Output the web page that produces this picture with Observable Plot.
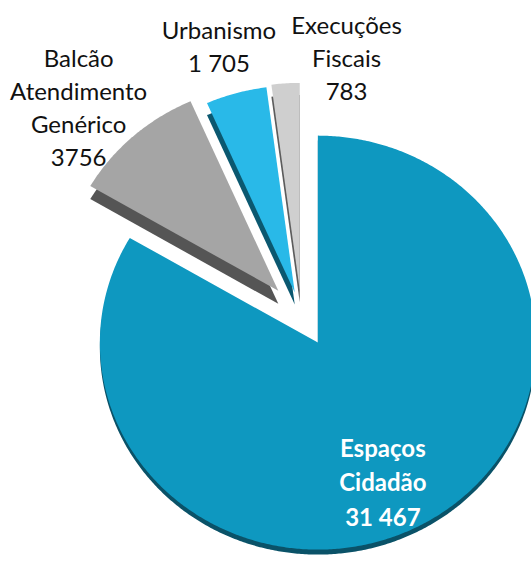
<!DOCTYPE html>
<html><head><meta charset="utf-8">
<script src="https://cdn.jsdelivr.net/npm/d3@7"></script>
<script src="https://cdn.jsdelivr.net/npm/@observablehq/plot@0.6"></script>
<style>body{margin:0;background:#fff;overflow:hidden}</style>
</head><body><div id="chart"></div>
<script>
// ---- data ----
const categories = ["Espaços Cidadão", "Balcão Atendimento Genérico", "Urbanismo", "Execuções Fiscais"];
const labelLines = [["Espaços", "Cidadão"], ["Balcão", "Atendimento", "Genérico"], ["Urbanismo"], ["Execuções", "Fiscais"]];
const values = [31467, 3756, 1705, 783];
const valueLabels = ["31 467", "3756", "1 705", "783"];

// ---- style ----
const topColors = ["#0e98c0", "#a5a5a5", "#29b9e8", "#cfcfcf"];
const sideColors = ["#0a5268", "#555555", "#0b5870", "#5c5c5c"];
const explode = [0.151, 0.16, 0.115, 0.124];   // radius units
const depth = [0.024, 0.063, 0.058, 0.058];    // radius units
const labelRadius = [0.73, 1.28, 1.245, 1.15];
const labelTurn = [5.7, -4, -0.6, 14.5];       // degrees
const W = 531, H = 562, RX = 218, RY = 207, CX = 301, CY = 315;

const pie = d3.pie().sort(null).value(d => d)(values);

const faces = [], sides = [];
pie.forEach((p, i) => {
  const mid = (p.startAngle + p.endAngle) / 2;
  const ax = explode[i] * Math.sin(mid), ay = explode[i] * Math.cos(mid);
  const pts = [[ax, ay]];
  const n = Math.max(12, Math.ceil((p.endAngle - p.startAngle) / (Math.PI / 360)));
  for (let k = 0; k <= n; k++) {
    const a = p.startAngle + (p.endAngle - p.startAngle) * k / n;
    pts.push([ax + Math.sin(a), ay + Math.cos(a)]);
  }
  pts.push([ax, ay]);
  pts.forEach(([x, y]) => faces.push({id: i, x, y, fill: topColors[i]}));
  pts.forEach(([x, y]) => sides.push({id: i, x, y: y - depth[i], fill: sideColors[i]}));
});

const labels = pie.map((p, i) => {
  const mid = (p.startAngle + p.endAngle) / 2;
  const t = mid + labelTurn[i] * Math.PI / 180;
  return {
    x: explode[i] * Math.sin(mid) + labelRadius[i] * Math.sin(t),
    y: explode[i] * Math.cos(mid) + labelRadius[i] * Math.cos(t),
    text: [...labelLines[i], valueLabels[i]].join("\n"),
    main: i === 0
  };
});

const chart = Plot.plot({
  width: W, height: H,
  margin: 0,
  x: {domain: [-CX / RX, (W - CX) / RX], range: [0, W], axis: null},
  y: {domain: [-(H - CY) / RY, CY / RY], range: [H, 0], axis: null},
  color: {type: "identity"},
  style: {background: "#fff"},
  marks: [
    Plot.line(sides, {x: "x", y: "y", z: "id", fill: "fill", stroke: "none", curve: "linear"}),
    Plot.line(faces, {x: "x", y: "y", z: "id", fill: "fill", stroke: "none", curve: "linear"}),
    Plot.text(labels.filter(d => !d.main), {x: "x", y: "y", text: "text", fontSize: 24, fontFamily: "Lato", fill: "#111", lineHeight: 1.375}),
    Plot.text(labels.filter(d => d.main), {x: "x", y: "y", text: "text", fontSize: 24, fontWeight: "bold", fontFamily: "Lato", fill: "#fff", lineHeight: 1.42})
  ]
});
document.getElementById("chart").appendChild(chart);
</script>
</body></html>
